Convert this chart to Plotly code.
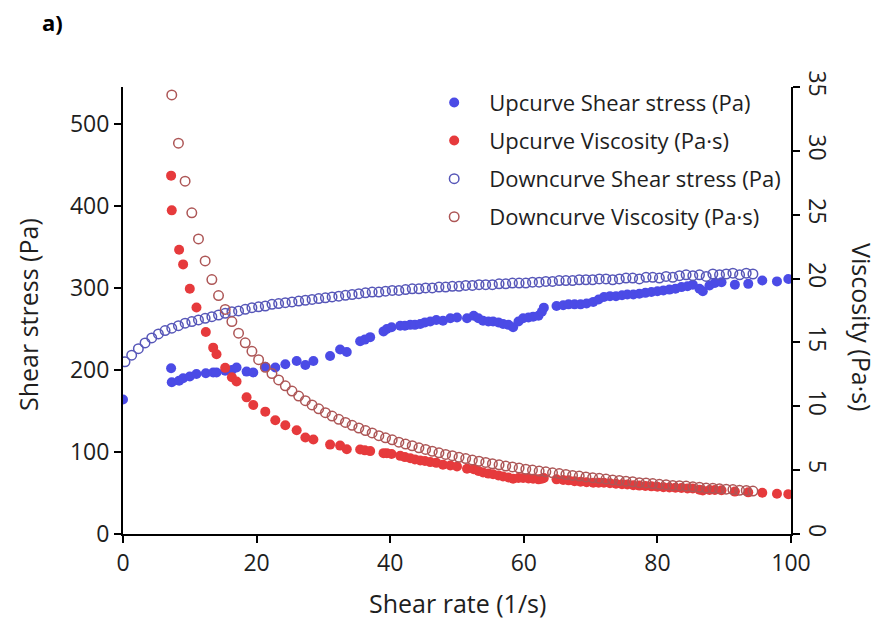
import plotly.graph_objects as go

# Upcurve (increasing shear rate)
up_rate = [0.0, 7.2, 7.3, 8.4, 9.0, 10.0, 11.0, 12.4, 13.5, 14.0, 15.3, 16.3, 17.0, 18.5, 19.5,
           21.3, 22.8, 24.3, 26.0, 27.3, 28.5, 31.0, 32.5, 33.5, 35.5, 36.2, 37.0, 39.0, 39.5,
           40.2, 41.5, 42.2, 43.0, 43.7, 44.5, 45.2, 46.0, 46.9, 47.9, 49.0, 50.0, 51.5, 52.5,
           53.2, 53.9, 54.7, 55.4, 56.2, 56.9, 57.7, 58.4, 59.2, 59.9, 60.7, 61.4, 62.2, 62.7,
           63.0, 64.9, 65.9, 66.7, 67.6, 68.5, 69.4, 70.4, 71.2, 72.0, 72.9, 73.8, 74.7, 75.5,
           76.4, 77.3, 78.2, 79.1, 80.0, 80.9, 81.8, 82.7, 83.6, 84.5, 85.3, 86.3, 86.8, 87.8,
           88.6, 89.6, 91.6, 93.6, 95.7, 97.9, 99.6]
up_stress = [164, 202, 185, 187, 190, 192, 195, 196, 197, 197, 199, 200, 203, 198, 197,
             204, 203, 207, 211, 206, 211, 217, 225, 222, 235, 237, 240, 247, 250,
             252, 254, 254, 255, 255, 256, 258, 259, 261, 260, 263, 264, 263, 266,
             263, 260, 259, 259, 258, 256, 255, 252, 259, 263, 264, 265, 266, 271,
             276, 278, 279, 280, 280, 280, 281, 283, 286, 289, 290, 290, 291, 292,
             292, 293, 294, 295, 296, 297, 298, 299, 301, 302, 304, 299, 296, 303,
             306, 307, 304, 305, 309, 308, 311]
# viscosity is reported from the first non-zero shear rate onward
up_visc = [28.06, 25.34, 22.26, 21.11, 19.20, 17.73, 15.81, 14.59, 14.07, 13.01, 12.27, 11.94,
           10.70, 10.10, 9.58, 8.90, 8.52, 8.12, 7.55, 7.40, 7.00, 6.92, 6.63, 6.62, 6.55,
           6.49, 6.33, 6.33, 6.27, 6.12, 6.02, 5.93, 5.84, 5.75, 5.71, 5.63, 5.57, 5.43,
           5.37, 5.28, 5.11, 5.07, 4.94, 4.82, 4.73, 4.68, 4.59, 4.50, 4.42, 4.32, 4.38,
           4.39, 4.35, 4.32, 4.28, 4.32, 4.38, 4.28, 4.23, 4.20, 4.14, 4.09, 4.05, 4.02,
           4.02, 4.01, 3.98, 3.93, 3.90, 3.87, 3.82, 3.79, 3.76, 3.73, 3.70, 3.67, 3.64,
           3.62, 3.60, 3.57, 3.56, 3.46, 3.41, 3.45, 3.45, 3.43, 3.32, 3.26, 3.23, 3.15,
           3.12]

# Downcurve (decreasing shear rate)
down_rate = [0.3, 1.3, 2.3, 3.3, 4.3, 5.3, 6.3, 7.3, 8.3, 9.3, 10.3, 11.3, 12.3, 13.3, 14.3,
             15.3, 16.3, 17.3, 18.3, 19.3, 20.3, 21.3, 22.3, 23.3, 24.3, 25.3, 26.3, 27.3,
             28.3, 29.3, 30.3, 31.3, 32.3, 33.3, 34.3, 35.3, 36.3, 37.3, 38.3, 39.3, 40.3,
             41.3, 42.3, 43.3, 44.3, 45.3, 46.3, 47.3, 48.3, 49.3, 50.3, 51.3, 52.3, 53.3,
             54.3, 55.3, 56.3, 57.3, 58.3, 59.3, 60.3, 61.3, 62.3, 63.3, 64.3, 65.3, 66.3,
             67.3, 68.3, 69.3, 70.3, 71.3, 72.3, 73.3, 74.3, 75.3, 76.3, 77.3, 78.3, 79.3,
             80.3, 81.3, 82.3, 83.3, 84.3, 85.3, 86.3, 87.3, 88.3, 89.3, 90.3, 91.3, 92.3,
             93.3, 94.3]
down_stress = [210, 218, 226, 233, 239, 244, 248, 251, 254, 257, 259, 261, 263, 265, 267,
               269, 271, 272, 274, 276, 277, 278, 280, 281, 282, 283, 284, 285,
               286, 287, 288, 289, 290, 291, 292, 293, 294, 295, 295, 296, 297,
               297, 298, 299, 299, 300, 300, 301, 301, 302, 302, 303, 303, 304,
               304, 304, 305, 305, 306, 306, 306, 307, 307, 308, 308, 309, 309,
               309, 310, 310, 310, 311, 311, 310, 311, 312, 312, 311, 313, 313,
               312, 314, 313, 315, 316, 315, 316, 314, 317, 316, 317, 318, 316,
               318, 317]
# visible viscosity values start at a shear rate of 7.3 1/s
down_visc = [34.38, 30.60, 27.63, 25.15, 23.10, 21.38, 19.92, 18.67, 17.58, 16.63, 15.72,
             14.97, 14.30, 13.65, 13.05, 12.56, 12.06, 11.60, 11.19, 10.80, 10.44, 10.11,
             9.80, 9.50, 9.23, 8.98, 8.74, 8.51, 8.30, 8.10, 7.91, 7.70, 7.53, 7.37, 7.19,
             7.04, 6.91, 6.75, 6.62, 6.48, 6.36, 6.23, 6.13, 6.00, 5.91, 5.79, 5.70, 5.60,
             5.50, 5.42, 5.32, 5.25, 5.16, 5.07, 5.01, 4.93, 4.87, 4.79, 4.73, 4.66, 4.59,
             4.54, 4.47, 4.41, 4.36, 4.30, 4.23, 4.19, 4.14, 4.09, 4.02, 4.00, 3.95, 3.89,
             3.86, 3.80, 3.78, 3.75, 3.69, 3.66, 3.60, 3.59, 3.54, 3.51, 3.48, 3.42, 3.41,
             3.36]

x_ticks = [0, 20, 40, 60, 80, 100]
stress_ticks = [0, 100, 200, 300, 400, 500]
visc_ticks = [0, 5, 10, 15, 20, 25, 30, 35]

FONT = "'Open Sans', Lato, sans-serif"
INK = "#1e1e1e"
BLUE = "#4b4be6"
RED = "#e63a3c"
BLUE_OPEN = "#5656b8"
RED_OPEN = "#ad5656"
TICK_SIZE = 23
TITLE_SIZE = 25

fig = go.Figure()
fig.add_trace(go.Scatter(
    x=up_rate, y=up_stress, mode="markers", name="Upcurve Shear stress (Pa)",
    marker=dict(symbol="circle", size=10, color=BLUE), legendgroup="a"))
fig.add_trace(go.Scatter(
    x=up_rate[1:], y=up_visc, mode="markers", name="Upcurve Viscosity (Pa·s)",
    marker=dict(symbol="circle", size=10, color=RED), yaxis="y2", legendgroup="b"))
fig.add_trace(go.Scatter(
    x=down_rate, y=down_stress, mode="markers", name="Downcurve Shear stress (Pa)",
    marker=dict(symbol="circle-open", size=9.5, color=BLUE_OPEN, line=dict(width=1.5)),
    legendgroup="c"))
fig.add_trace(go.Scatter(
    x=down_rate[7:], y=down_visc, mode="markers", name="Downcurve Viscosity (Pa·s)",
    marker=dict(symbol="circle-open", size=9.5, color=RED_OPEN, line=dict(width=1.5)),
    yaxis="y2", legendgroup="d"))

axis_common = dict(
    showline=True, linecolor="black", linewidth=2,
    ticks="outside", ticklen=7, tickwidth=2, tickcolor="black",
    showgrid=False, zeroline=False,
    tickfont=dict(family=FONT, size=TICK_SIZE, color=INK),
)

title_font = dict(family=FONT, size=TITLE_SIZE, color=INK)

fig.update_layout(
    width=892, height=624,
    margin=dict(l=123, r=101, t=87, b=90),
    paper_bgcolor="white", plot_bgcolor="white",
    font=dict(family=FONT, color=INK),
    xaxis=dict(range=[0, 100], tickvals=x_ticks, **axis_common),
    yaxis=dict(range=[0, 545], tickvals=stress_ticks, **axis_common),
    yaxis2=dict(range=[0, 35], tickvals=visc_ticks, overlaying="y", side="right",
                tickangle=90, **axis_common),
    legend=dict(x=0.4434, y=1.012, xanchor="left", yanchor="top",
                bgcolor="rgba(0,0,0,0)", borderwidth=0,
                font=dict(family=FONT, size=22, color=INK),
                traceorder="grouped", tracegroupgap=6.5, itemwidth=60),
    annotations=[
        dict(text="Shear rate (1/s)", xref="paper", yref="paper", x=0.5, y=-0.1544,
             xanchor="center", yanchor="middle", showarrow=False, font=title_font),
        dict(text="Shear stress (Pa)", xref="paper", yref="paper", x=-0.1422, y=0.49,
             xanchor="center", yanchor="middle", showarrow=False, textangle=-90,
             font=title_font),
        dict(text="Viscosity (Pa·s)", xref="paper", yref="paper", x=1.1063, y=0.463,
             xanchor="center", yanchor="middle", showarrow=False, textangle=90,
             font=title_font),
        dict(text="<b>a)</b>", xref="paper", yref="paper", x=-0.1243, y=1.1454,
             xanchor="left", yanchor="middle", showarrow=False,
             font=dict(family=FONT, size=22, color="black")),
    ],
)

fig.write_html("out.html")
